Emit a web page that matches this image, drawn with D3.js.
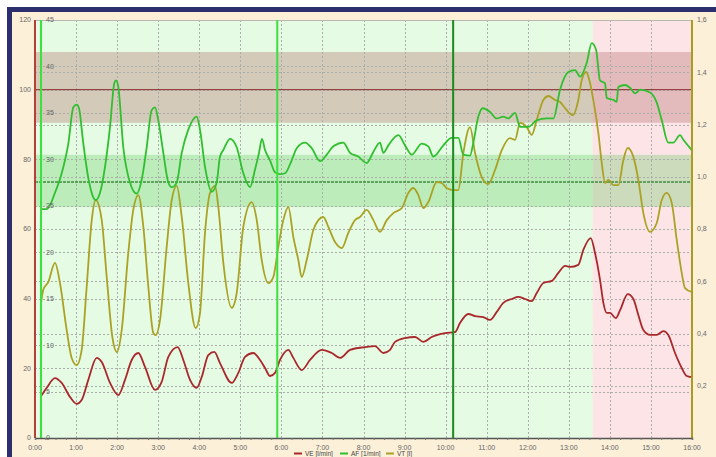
<!DOCTYPE html>
<html>
<head>
<meta charset="utf-8">
<script src="https://cdn.jsdelivr.net/npm/d3@7"></script>
<style>
  body { margin: 0; background: #fff; overflow: hidden; }
  svg { display: block; }
  .tick-label { font-family: "Liberation Sans", Arial, sans-serif; font-size: 7px; fill: #666; }
  .legend { font-family: "Liberation Sans", Arial, sans-serif; font-size: 6.5px; fill: #444; }
</style>
</head>
<body>
<svg id="chart" width="716" height="457"></svg>
<script>
// series: [minutes since 0:00, value]
const veData = [
  [9.8, 12.3], [17.1, 14.4], [29.2, 17.2], [39.0, 15.8], [51.1, 11.8], [60.9, 9.8], [68.2, 10.9],
  [77.9, 16.7], [90.2, 23.0], [97.5, 21.8], [109.6, 15.8], [121.7, 12.3], [131.5, 16.7], [141.3, 22.4],
  [151.0, 24.4], [160.7, 20.4], [175.4, 13.8], [185.1, 16.1], [194.8, 23.3], [208.5, 26.1], [216.7, 22.4],
  [226.5, 16.7], [236.3, 14.4], [243.6, 17.5], [253.2, 23.8], [262.0, 24.7], [270.3, 21.5], [287.4, 15.8],
  [297.1, 18.7], [306.9, 23.3], [319.0, 24.4], [328.8, 22.4], [336.1, 20.1], [343.4, 17.8], [350.7, 18.7],
  [358.0, 22.4], [370.2, 25.3], [377.5, 23.0], [389.7, 19.5], [401.9, 22.4], [418.9, 25.3], [433.6, 24.4],
  [445.7, 23.0], [460.3, 25.3], [482.2, 26.1], [496.8, 26.4], [509.0, 24.4], [518.8, 25.3], [526.1, 27.6],
  [540.7, 28.7], [555.3, 29.0], [567.4, 27.6], [579.7, 29.0], [599.1, 30.1], [613.7, 30.4], [621.0, 33.0],
  [633.2, 35.6], [643.0, 35.0], [655.1, 34.7], [664.9, 33.9], [674.7, 36.2], [684.3, 38.8], [696.6, 39.9],
  [706.3, 40.5], [716.0, 39.9], [725.8, 39.3], [733.1, 41.6], [742.8, 44.5], [755.1, 45.1], [764.7, 47.4],
  [774.5, 49.4], [781.8, 49.1], [793.9, 49.7], [801.2, 54.0], [812.0, 57.4], [818.3, 53.1], [825.6, 45.4],
  [830.5, 38.8], [835.4, 35.9], [840.2, 35.9], [848.6, 34.4], [854.9, 36.7], [866.1, 41.3], [874.3, 39.9],
  [881.6, 35.3], [888.9, 31.0], [898.7, 29.6], [908.5, 29.6], [918.1, 30.7], [925.4, 29.6], [935.2, 24.4],
  [945.0, 20.1], [952.3, 17.8], [959.6, 17.5]
];

const afData = [
  [9.8, 24.65], [17.5, 24.65], [29.2, 26.4], [39.0, 28.5], [48.7, 31.7], [56.0, 35.6], [60.9, 35.9],
  [64.3, 35.5], [70.6, 31.7], [77.9, 28.0], [85.2, 25.9], [88.7, 25.6], [95.0, 26.4], [102.3, 29.2],
  [109.6, 33.5], [115.9, 38.2], [118.4, 38.5], [121.7, 37.8], [129.0, 31.3], [138.8, 27.5], [148.6, 26.3],
  [155.9, 27.8], [163.2, 31.3], [170.5, 35.3], [175.4, 35.6], [180.2, 34.2], [187.5, 30.7], [194.8, 27.5],
  [199.8, 27.0], [207.1, 27.5], [214.4, 30.7], [224.0, 33.2], [236.3, 34.6], [241.1, 33.2], [248.4, 29.2],
  [258.2, 26.5], [265.5, 27.5], [270.3, 30.3], [275.2, 31.0], [285.0, 32.2], [294.7, 31.3], [304.4, 28.5],
  [314.2, 27.0], [321.5, 28.9], [327.3, 30.7], [331.7, 32.2], [336.1, 31.0], [343.4, 29.9], [350.7, 28.6],
  [358.0, 28.4], [365.3, 28.5], [375.1, 29.9], [382.4, 31.2], [394.6, 31.8], [404.3, 31.2], [416.5, 29.8],
  [426.3, 30.5], [435.9, 31.4], [450.5, 31.8], [460.3, 30.7], [472.4, 30.3], [484.7, 29.6], [494.4, 30.8],
  [504.1, 31.8], [509.0, 30.7], [516.3, 31.5], [530.9, 32.6], [540.7, 31.5], [550.5, 30.5], [565.1, 31.7],
  [574.7, 31.4], [582.0, 30.3], [596.6, 31.5], [608.9, 32.3], [618.6, 32.3], [625.9, 30.5], [635.7, 30.4],
  [640.5, 31.8], [647.8, 34.6], [654.2, 35.5], [664.9, 35.1], [674.7, 34.4], [684.3, 34.6], [691.6, 34.4],
  [701.4, 35.0], [708.7, 33.5], [720.9, 33.5], [733.1, 34.2], [747.7, 34.4], [757.4, 34.4], [767.2, 37.5],
  [779.3, 39.4], [789.1, 39.6], [796.4, 38.9], [806.2, 40.4], [813.5, 42.5], [819.8, 41.8], [825.6, 38.5],
  [832.9, 38.2], [835.4, 36.6], [845.1, 36.4], [850.0, 36.2], [852.4, 37.8], [862.2, 38.0], [869.5, 37.7],
  [876.8, 37.1], [884.1, 37.5], [898.7, 37.2], [908.5, 36.1], [915.8, 34.2], [925.4, 31.8], [932.7, 31.8],
  [942.5, 32.6], [947.4, 32.1], [959.6, 31.0]
];

const vtData = [
  [8.8, 0.517], [12.1, 0.567], [19.4, 0.597], [29.2, 0.670], [36.5, 0.593], [46.3, 0.413], [53.6, 0.306],
  [60.9, 0.279], [68.2, 0.337], [75.5, 0.578], [82.9, 0.834], [88.7, 0.911], [97.5, 0.834], [104.8, 0.616],
  [113.0, 0.387], [119.8, 0.329], [126.7, 0.413], [136.3, 0.708], [143.6, 0.873], [151.0, 0.930], [158.3, 0.808],
  [165.6, 0.578], [172.9, 0.402], [176.4, 0.394], [182.7, 0.452], [192.4, 0.731], [199.8, 0.911], [207.1, 0.965],
  [214.4, 0.846], [224.0, 0.593], [234.8, 0.421], [241.1, 0.478], [248.4, 0.785], [255.7, 0.938], [263.0, 0.965],
  [267.9, 0.884], [275.2, 0.670], [287.4, 0.498], [294.7, 0.555], [304.4, 0.808], [316.7, 0.903], [324.0, 0.834],
  [331.3, 0.681], [340.9, 0.593], [348.2, 0.616], [355.5, 0.731], [362.8, 0.834], [370.2, 0.884], [377.5, 0.769],
  [384.8, 0.681], [389.7, 0.616], [397.0, 0.681], [406.7, 0.796], [414.0, 0.834], [421.3, 0.846], [428.6, 0.808],
  [438.4, 0.750], [448.2, 0.727], [457.8, 0.785], [467.6, 0.834], [474.9, 0.846], [484.7, 0.873], [494.4, 0.834],
  [504.1, 0.789], [514.0, 0.834], [523.6, 0.861], [535.9, 0.880], [545.5, 0.938], [552.8, 0.957], [560.1, 0.930],
  [567.4, 0.880], [574.7, 0.903], [587.0, 0.980], [594.3, 0.976], [601.6, 0.957], [611.3, 0.949], [618.6, 0.949],
  [625.9, 1.091], [635.7, 1.190], [643.0, 1.091], [652.8, 0.999], [662.4, 0.972], [672.2, 1.026], [682.0, 1.102],
  [694.1, 1.148], [701.4, 1.141], [708.7, 1.206], [718.5, 1.190], [725.8, 1.160], [733.1, 1.217], [742.8, 1.294],
  [750.1, 1.309], [759.9, 1.294], [767.2, 1.286], [774.5, 1.263], [785.7, 1.236], [793.9, 1.294], [798.9, 1.370],
  [805.2, 1.401], [810.0, 1.370], [815.8, 1.294], [823.2, 1.167], [828.1, 1.053], [832.9, 0.976], [837.8, 0.988],
  [845.1, 0.968], [852.4, 0.968], [859.7, 1.064], [866.1, 1.110], [874.3, 1.076], [881.6, 0.988], [888.9, 0.861],
  [898.7, 0.789], [908.5, 0.823], [915.8, 0.911], [923.1, 0.938], [930.4, 0.900], [937.7, 0.758], [945.0, 0.632],
  [949.8, 0.574], [959.6, 0.559]
];

const veTicks = [0, 20, 40, 60, 80, 100, 120];
const afTicks = [0, 5, 10, 15, 20, 25, 30, 35, 40, 45];
const vtTicks = [0.2, 0.4, 0.6, 0.8, 1.0, 1.2, 1.4, 1.6];
const hourTicks = d3.range(0, 17);

// phases (minutes) and reference bands (VE units)
const recoveryStart = 815;
const markerLines = [[8.8, "#3ee03e"], [354, "#3ee03e"], [611, "#1d8a1d"]];
const upperBand = [90.5, 110.8], upperCenter = 100;
const lowerBand = [66.3, 81.3], lowerCenter = 73.5;

const legendItems = [["VE [l/min]", "#a8282c"], ["AF [1/min]", "#2fbf2f"], ["VT [l]", "#aaa225"]];

var svg = d3.select("#chart");

// frame
svg.append("rect").attr("x", 7).attr("y", 7).attr("width", 709).attr("height", 450).attr("fill", "#2c2f6e");
svg.append("rect").attr("x", 12).attr("y", 12).attr("width", 704).attr("height", 445).attr("fill", "#fcf0d9");

var x = d3.scaleLinear().domain([0, 960]).range([35, 692]);
var yVE = d3.scaleLinear().domain([0, 120]).range([438, 20]);
var yAF = d3.scaleLinear().domain([0, 45]).range([438, 20]);
var yVT = d3.scaleLinear().domain([0, 1.6]).range([438, 20]);

var plot = svg.append("g");

// phase backgrounds
plot.append("rect")
  .attr("x", x(0)).attr("y", yVE(120))
  .attr("width", x(recoveryStart) - x(0)).attr("height", yVE(0) - yVE(120))
  .attr("fill", "#e6fbe3");
plot.append("rect")
  .attr("x", x(recoveryStart)).attr("y", yVE(120))
  .attr("width", x(960) - x(recoveryStart)).attr("height", yVE(0) - yVE(120))
  .attr("fill", "#fde5e7");

// bands
plot.append("rect")
  .attr("x", x(0)).attr("y", yVE(upperBand[1]))
  .attr("width", x(960) - x(0)).attr("height", yVE(upperBand[0]) - yVE(upperBand[1]))
  .attr("fill", "rgba(170,90,90,0.30)");
plot.append("rect")
  .attr("x", x(0)).attr("y", yVE(lowerBand[1]))
  .attr("width", x(960) - x(0)).attr("height", yVE(lowerBand[0]) - yVE(lowerBand[1]))
  .attr("fill", "rgba(60,190,60,0.25)");

// grid
var grid = plot.append("g")
  .attr("stroke", "#a9aea8").attr("stroke-width", 1).attr("stroke-dasharray", "2,2");
var gridY = [].concat(veTicks.map(yVE), afTicks.map(yAF), vtTicks.map(yVT));
grid.selectAll(".gy").data(gridY).enter().append("line")
  .attr("x1", x(0)).attr("x2", x(960))
  .attr("y1", d => Math.round(d) + 0.5).attr("y2", d => Math.round(d) + 0.5);
grid.selectAll(".gx").data(hourTicks.slice(1, 16)).enter().append("line")
  .attr("x1", d => Math.round(x(d * 60)) + 0.5).attr("x2", d => Math.round(x(d * 60)) + 0.5)
  .attr("y1", yVE(120)).attr("y2", yVE(0));

// center lines
plot.append("line")
  .attr("x1", x(0)).attr("x2", x(960))
  .attr("y1", yVE(upperCenter)).attr("y2", yVE(upperCenter))
  .attr("stroke", "#8a2a2a").attr("stroke-width", 1);
plot.append("line")
  .attr("x1", x(0)).attr("x2", x(960))
  .attr("y1", yVE(lowerCenter)).attr("y2", yVE(lowerCenter))
  .attr("stroke", "#3f8a3f").attr("stroke-width", 1.5).attr("stroke-dasharray", "3,1");

// top border
plot.append("line")
  .attr("x1", x(0)).attr("x2", x(960)).attr("y1", 20.5).attr("y2", 20.5)
  .attr("stroke", "#b8b8b0");

// series
function drawSeries(data, yScale, colour) {
  var line = d3.line()
    .x(d => x(d[0]))
    .y(d => yScale(d[1]))
    .curve(d3.curveMonotoneX);
  plot.append("path")
    .attr("d", line(data))
    .attr("fill", "none")
    .attr("stroke", colour)
    .attr("stroke-width", 1.8)
    .attr("stroke-linejoin", "round");
}
drawSeries(vtData, yVT, legendItems[2][1]);
drawSeries(veData, yVE, legendItems[0][1]);
drawSeries(afData, yAF, legendItems[1][1]);

// marker lines
plot.selectAll(".marker").data(markerLines).enter().append("line")
  .attr("x1", d => x(d[0])).attr("x2", d => x(d[0]))
  .attr("y1", yVE(120)).attr("y2", yVE(0))
  .attr("stroke", d => d[1]).attr("stroke-width", 2);

// axes lines
svg.append("line").attr("x1", x(0)).attr("x2", x(0)).attr("y1", 20).attr("y2", 438)
  .attr("stroke", "#b5403a").attr("stroke-width", 2);
svg.append("line").attr("x1", x(960)).attr("x2", x(960)).attr("y1", 20).attr("y2", 438)
  .attr("stroke", "#a89d1e").attr("stroke-width", 2);

// bottom axis
var xAxis = d3.axisBottom(x)
  .tickValues(d3.range(0, 961, 15))
  .tickSize(2)
  .tickFormat("");
var gx = svg.append("g").attr("transform", "translate(0,438)").call(xAxis);
gx.select(".domain").attr("stroke", "#555").attr("stroke-width", 1.5);
gx.selectAll(".tick line").attr("stroke", "#777");

svg.selectAll(".xlab").data(hourTicks).enter().append("text")
  .attr("class", "tick-label")
  .attr("x", d => x(d * 60)).attr("y", 450)
  .attr("text-anchor", "middle")
  .text(d => d + ":00");

// y labels
svg.selectAll(".velab").data(veTicks).enter().append("text")
  .attr("class", "tick-label")
  .attr("x", 31).attr("y", d => yVE(d)).attr("dy", "0.35em")
  .attr("text-anchor", "end")
  .text(d => d);
svg.selectAll(".aflab").data(afTicks).enter().append("text")
  .attr("class", "tick-label")
  .attr("x", 46).attr("y", d => yAF(d)).attr("dy", "0.35em")
  .attr("text-anchor", "start")
  .text(d => d);
svg.selectAll(".vtlab").data(vtTicks).enter().append("text")
  .attr("class", "tick-label")
  .attr("x", 697).attr("y", d => yVT(d)).attr("dy", "0.35em")
  .attr("text-anchor", "start")
  .text(d => d3.format(".1f")(d).replace(".", ","));

// legend along the bottom edge
var lg = svg.append("g").attr("transform", "translate(294,456)");
var lgItem = lg.selectAll("g").data(legendItems).enter().append("g")
  .attr("transform", (d, i) => "translate(" + (i * 46) + ",0)");
lgItem.append("rect").attr("x", 0).attr("y", -3.5).attr("width", 8).attr("height", 2).attr("fill", d => d[1]);
lgItem.append("text").attr("class", "legend").attr("x", 11).attr("y", 0).text(d => d[0]);
</script>
</body>
</html>
